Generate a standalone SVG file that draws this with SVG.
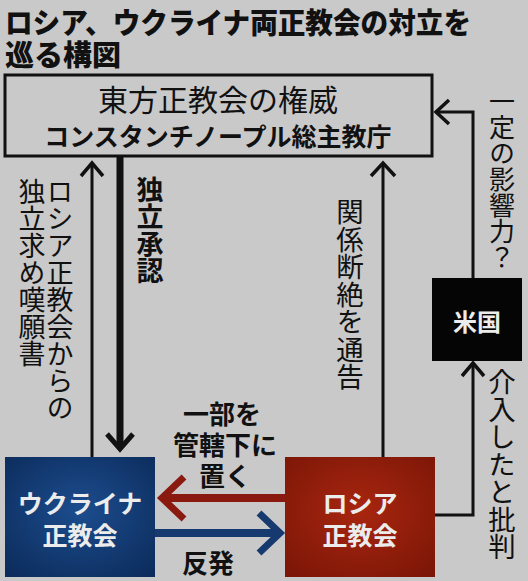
<svg xmlns="http://www.w3.org/2000/svg" width="528" height="581" viewBox="0 0 528 581">
<defs>
<radialGradient id="gBlue" cx="50%" cy="45%" r="70%">
<stop offset="0" stop-color="#1c4d8e"/>
<stop offset="1" stop-color="#0c2c5c"/>
</radialGradient>
<radialGradient id="gRed" cx="50%" cy="45%" r="70%">
<stop offset="0" stop-color="#a8260f"/>
<stop offset="1" stop-color="#7c1607"/>
</radialGradient>
<style>
text{font-family:"Noto Sans CJK JP","Noto Sans CJK SC",sans-serif;fill:#111}
.title{font-size:29px;font-weight:900}
.b{font-weight:700}
.v{writing-mode:vertical-rl}
.w{fill:#ececec;font-weight:700}
.line{fill:none;stroke:#111;stroke-width:3}
.head{fill:none;stroke:#111;stroke-width:3.5;stroke-linejoin:miter}
</style>
</defs>
<rect width="528" height="581" fill="#c9c9c9"/>
<g id="title">
<text class="title" x="5" y="34" textLength="466" lengthAdjust="spacingAndGlyphs">ロシア、ウクライナ両正教会の対立を</text>
<text class="title" x="5" y="66">巡る構図</text>
</g>
<g id="patriarchate">
<rect x="5" y="75" width="427" height="81" fill="#c9c9c9" stroke="#111" stroke-width="3"/>
<text x="218" y="111" font-size="30" text-anchor="middle" font-weight="400">東方正教会の権威</text>
<text x="218" y="146" font-size="25" text-anchor="middle" class="b">コンスタンチノープル総主教庁</text>
</g>
<g id="ukraine">
<rect x="5" y="457" width="150" height="120" fill="url(#gBlue)"/>
<text class="w" x="80" y="513" font-size="25" text-anchor="middle">ウクライナ</text>
<text class="w" x="80" y="545" font-size="25" text-anchor="middle">正教会</text>
</g>
<g id="russia">
<rect x="285" y="457" width="150" height="120" fill="url(#gRed)"/>
<text class="w" x="360" y="513" font-size="25" text-anchor="middle">ロシア</text>
<text class="w" x="360" y="545" font-size="25" text-anchor="middle">正教会</text>
</g>
<g id="usa">
<rect x="432" y="278" width="90" height="83" fill="#050505"/>
<text class="w" x="477" y="331" font-size="24" text-anchor="middle">米国</text>
</g>
<g id="connectors">
<line class="line" x1="92" y1="457" x2="92" y2="164"/>
<polyline class="head" points="81,176 92,163 103,176"/>
<line x1="120" y1="156" x2="120" y2="446" stroke="#111" stroke-width="7"/>
<polyline points="107,434 120,449 133,434" fill="none" stroke="#111" stroke-width="5"/>
<line class="line" x1="383" y1="457" x2="383" y2="164"/>
<polyline class="head" points="371,176 383,163 395,176"/>
<polyline class="line" points="473,278 473,112 437,112"/>
<polyline class="head" points="449,100 436,112 449,124"/>
<polyline class="line" points="435,515 473,515 473,364"/>
<polyline class="head" points="462,376 473,363 484,376"/>
<line x1="285" y1="498" x2="164" y2="498" stroke="#8a1a10" stroke-width="8"/>
<polyline points="184,477 162,498 184,519" fill="none" stroke="#8a1a10" stroke-width="7"/>
<line x1="155" y1="533" x2="278" y2="533" stroke="#163a70" stroke-width="8"/>
<polyline points="259,513 280,533 259,553" fill="none" stroke="#163a70" stroke-width="7"/>
</g>
<g id="labels">
<text class="v" x="60" y="178" font-size="27">ロシア正教会からの</text>
<text class="v" x="32" y="178" font-size="27">独立求め嘆願書</text>
<text class="v b" x="150" y="176" font-size="27">独立承認</text>
<text class="v" x="350" y="198" font-size="27.5">関係断絶を通告</text>
<text class="v" x="502" y="88" font-size="26">一定の影響力？</text>
<text class="v" x="502" y="368" font-size="27.5">介入したと批判</text>
<text class="b" x="222" y="424" font-size="26" text-anchor="middle">一部を</text>
<text class="b" x="225" y="455" font-size="26" text-anchor="middle">管轄下に</text>
<text class="b" x="225" y="486" font-size="26" text-anchor="middle">置く</text>
<text class="b" x="208" y="573" font-size="26" text-anchor="middle">反発</text>
</g>
</svg>
